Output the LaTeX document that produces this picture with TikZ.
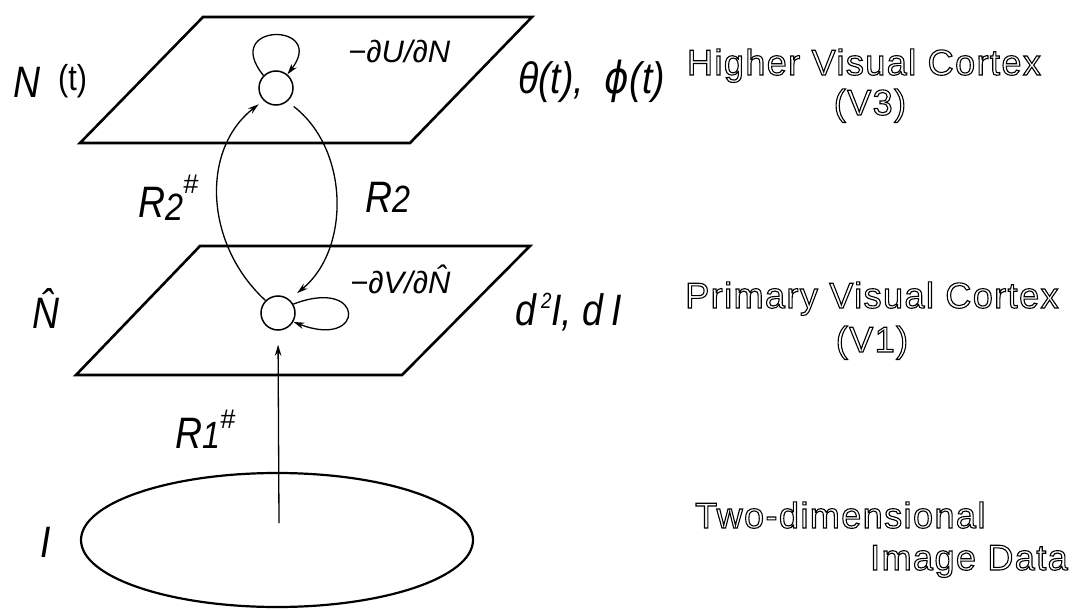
\documentclass[tikz,border=0pt]{standalone}
\usepackage{graphicx}
\usepackage{fontspec}
\setmainfont{Liberation Sans}
\newfontfamily\cortexfont[LetterSpace=4]{Liberation Sans}
\newfontfamily\dvsans{DejaVu Sans}
\usetikzlibrary{arrows.meta,shapes.geometric}
\newcommand\narrowtxt[1]{\scalebox{0.85}[1]{#1}}
\newcommand\hatN{N\char"0302\relax}
\newcommand\outlinetxt[1]{\special{pdf:literal direct 1 Tr 1.1 w}#1\special{pdf:literal direct 0 Tr}}
\newcommand\sharpsup[1]{\raisebox{#1}{\fontsize{27}{27}\selectfont\#}}
\begin{document}
\begin{tikzpicture}[x=1pt,y=-1pt,
  plane/.style={line width=2.6pt, line join=miter},
  link/.style={line width=1.3pt},
  tipped/.style={-{Stealth[length=11pt,width=6.5pt]}},
  dot/.style={circle, draw, line width=1.5pt, minimum size=34pt, inner sep=0pt},
  ital/.style={anchor=base west, inner sep=0pt, font=\fontsize{44}{44}\selectfont\itshape},
  small/.style={anchor=base west, inner sep=0pt, font=\fontsize{31}{31}\selectfont\itshape},
  cortex/.style={inner sep=0pt, font=\fontsize{36}{40}\selectfont\cortexfont}
]
\useasboundingbox (0,0) rectangle (1082,610);

% planes
\draw[plane] (203,17) -- (532,17) -- (410,143) -- (80,143) -- cycle;
\draw[plane] (200,246) -- (530,246) -- (402,375) -- (76,375) -- cycle;

% image ellipse
\node[ellipse, draw, line width=2.2pt, minimum width=392pt, minimum height=134pt, inner sep=0pt] (img) at (277,540) {};
\coordinate (r1) at (279,523);

% units
\node[dot] (c1) at (276,88) {};
\node[dot] (c2) at (278,313) {};

% self loops
\draw[link, tipped] (c1.135) .. controls (220,22) and (328,22) .. (c1.50);
\draw[link, tipped] (c2.30) .. controls (366,276) and (366,350) .. (c2.-30);

% connections
\draw[link, tipped, shorten >=6pt] (c2.135) .. controls (205,245) and (200,150) .. (c1.225);
\draw[link, tipped, shorten <=8pt, shorten >=10pt] (c1.-50) .. controls (350,150) and (350,250) .. (c2.50);
\draw[link, tipped, shorten >=14pt] (r1) -- (c2.south);

% labels
\node[ital] (lN) at (13,97) {\narrowtxt{N}};
\node[anchor=base west, inner sep=0pt, font=\fontsize{36}{36}\selectfont] (lt) at (58,91) {\narrowtxt{(t)}};
\node[ital] (lth) at (518,94) {\narrowtxt{θ(t),\ \ {\dvsans\itshape ϕ}(t)}};
\node[small] (lU) at (348,63) {−∂U/∂N};
\node[small] (lV) at (350,293) {−∂V/∂\hatN};
\node[ital] (lR2h) at (138,217) {\narrowtxt{R\raisebox{-3pt}{\fontsize{38}{38}\selectfont 2}}\sharpsup{24pt}};
\node[ital] (lR2) at (365,212) {\narrowtxt{R{\fontsize{38}{38}\selectfont 2}}};
\node[ital] (lNh) at (32,328) {\narrowtxt{\hatN}};
\node[ital] (ld) at (515,325) {\narrowtxt{d\hspace{6pt}\raisebox{17pt}{\fontsize{22}{22}\selectfont 2}I, d\hspace{10pt}I}};
\node[ital] (lR1) at (175,448) {\narrowtxt{R{\fontsize{38}{38}\selectfont 1}}\sharpsup{20pt}};
\node[ital] (lI) at (40,557) {\narrowtxt{I}};

\node[cortex, anchor=base] (h1) at (864,75) {\outlinetxt{Higher Visual Cortex}};
\node[cortex, anchor=base] (h2) at (870,115) {\outlinetxt{(V3)}};
\node[cortex, anchor=base] (p1) at (872,308) {\outlinetxt{Primary Visual Cortex}};
\node[cortex, anchor=base] (p2) at (872,352) {\outlinetxt{(V1)}};
\node[cortex, anchor=base west] (t1) at (695,528) {\outlinetxt{Two-dimensional}};
\node[cortex, anchor=base east] (t2) at (1068,570) {\outlinetxt{Image Data}};
\end{tikzpicture}
\end{document}
